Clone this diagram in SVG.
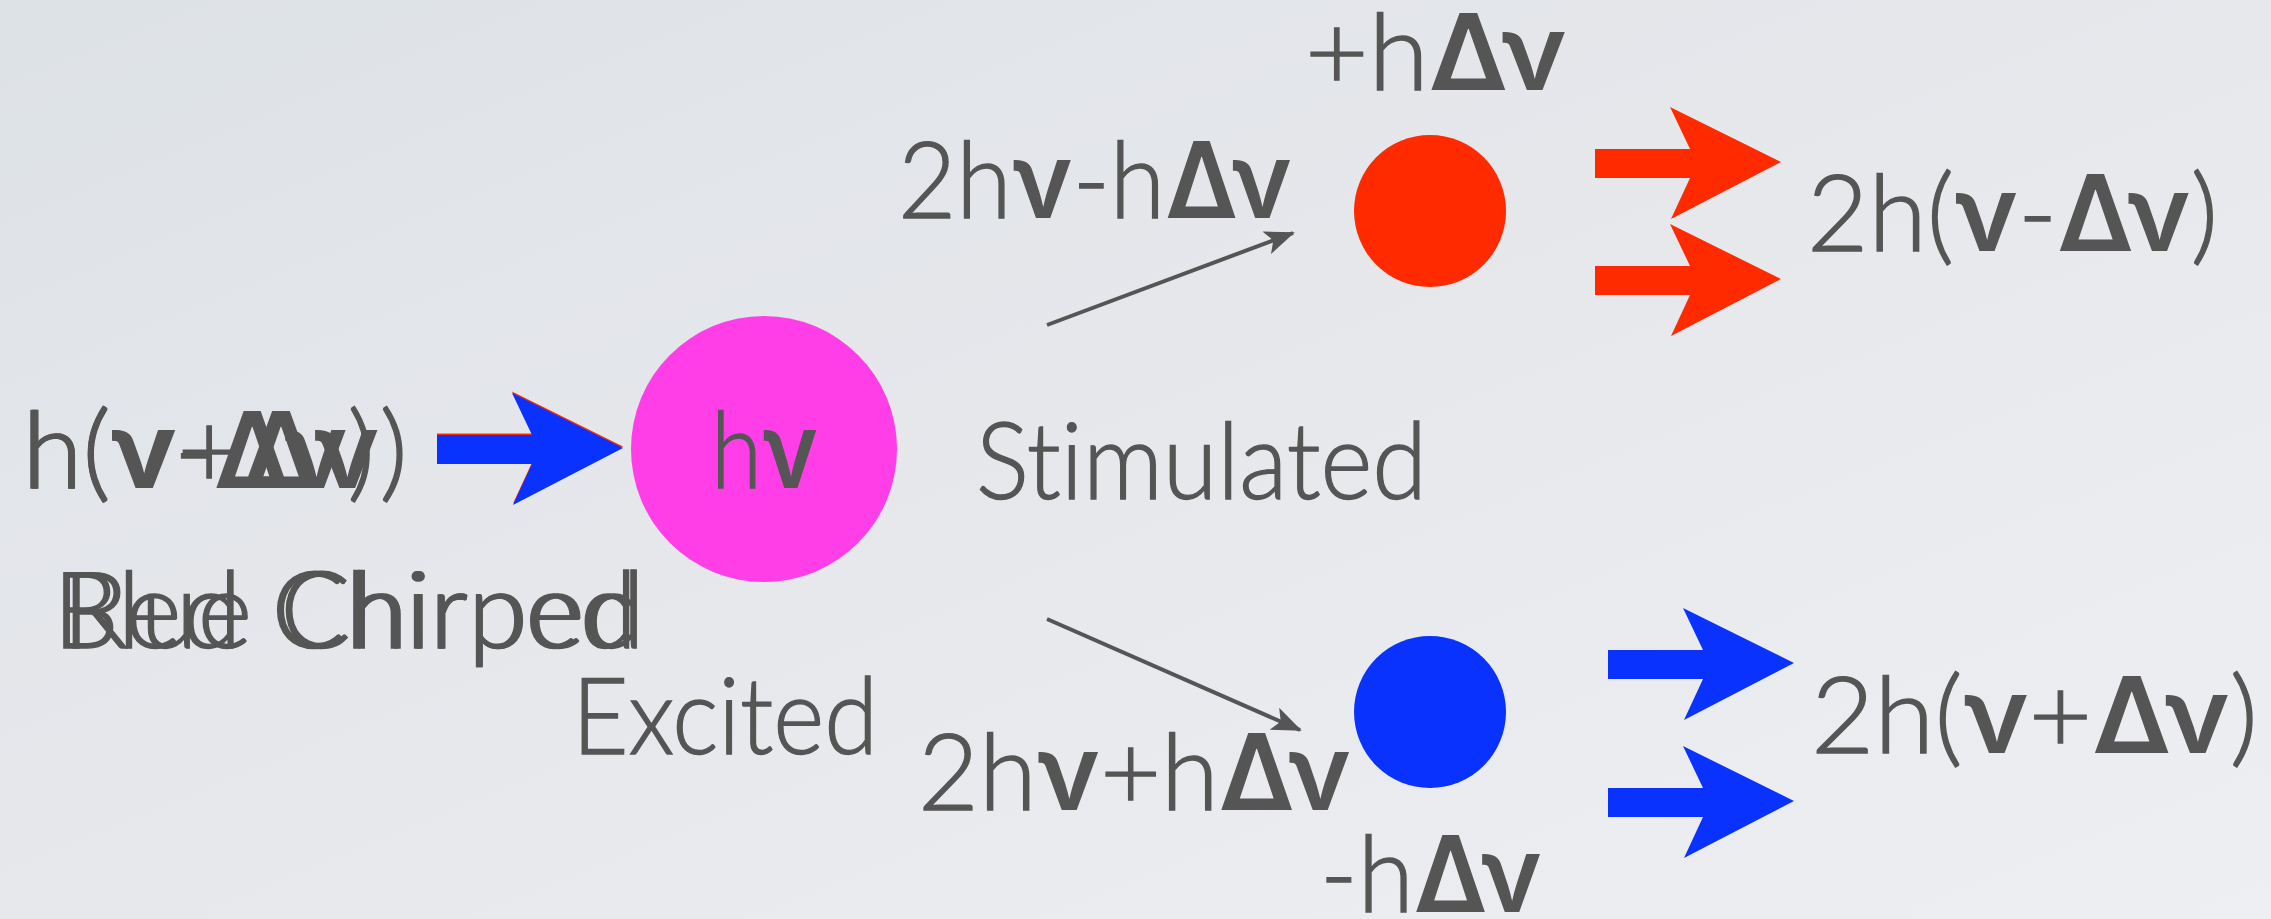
<svg xmlns="http://www.w3.org/2000/svg" width="2271" height="919" viewBox="0 0 2271 919">
  <style>
    .t { font-family: Lato, "Open Sans", "DejaVu Sans", sans-serif; font-weight: 300; fill: #555555; stroke: #555555; stroke-width: 1.4; font-size: 106px; font-variant-ligatures: none; }
    .g { font-family: Inter, Roboto, "Liberation Sans", sans-serif; font-weight: 600; stroke-width: 0; }
    .thin { stroke: #555555; stroke-width: 4; fill: none; marker-end: url(#head); }
    .red { fill: #ff2a00; }
    .blue { fill: #0a32ff; }
  </style>
  <defs>
    <linearGradient id="bg" x1="0" y1="0" x2="1" y2="1">
      <stop offset="0" stop-color="#dde2e7"/>
      <stop offset="0.5" stop-color="#e7e8ec"/>
      <stop offset="1" stop-color="#eeeff2"/>
    </linearGradient>
    <marker id="head" markerUnits="userSpaceOnUse" markerWidth="30" markerHeight="24" refX="28" refY="12" orient="auto" viewBox="0 0 30 24">
      <path d="M0,0 L30,12 L0,24 L7,12 Z" fill="#555555"/>
    </marker>
    <path id="fat" d="M0,0 L95,0 L75,-42 L186,13 L76,70 L95,29 L0,29 Z"/>
  </defs>

  <rect width="2271" height="919" fill="url(#bg)"/>

  <g id="input-label">
    <text class="t" x="22" y="488" textLength="386" lengthAdjust="spacingAndGlyphs">h(<tspan class="g">ν</tspan>+<tspan class="g">Δν</tspan>)</text>
    <text class="t" x="24" y="488" textLength="351" lengthAdjust="spacingAndGlyphs">h(<tspan class="g">ν</tspan>-<tspan class="g">Δν</tspan>)</text>
    <text class="t" x="53" y="648" textLength="584" lengthAdjust="spacingAndGlyphs">Blue Chirped</text>
    <text class="t" x="62" y="648" textLength="583" lengthAdjust="spacingAndGlyphs">Red Chirped</text>
  </g>

  <g id="input-arrow">
    <use href="#fat" x="437" y="433.5" class="red"/>
    <use href="#fat" x="437" y="435" class="blue"/>
  </g>

  <g id="photon">
    <circle cx="764" cy="449" r="133" fill="#ff3ee8"/>
    <text class="t" x="711" y="488" textLength="107" lengthAdjust="spacingAndGlyphs">h<tspan class="g">ν</tspan></text>
  </g>

  <g id="stimulated-label">
    <text class="t" x="976" y="499" textLength="451" lengthAdjust="spacingAndGlyphs">Stimulated</text>
  </g>
  <g id="excited-label">
    <text class="t" x="572" y="754" textLength="306" lengthAdjust="spacingAndGlyphs">Excited</text>
  </g>

  <g id="connectors">
    <line class="thin" x1="1047" y1="325" x2="1293" y2="233"/>
    <line class="thin" x1="1047" y1="619" x2="1300" y2="730"/>
  </g>

  <g id="red-node">
    <text class="t" x="898" y="218" textLength="394" lengthAdjust="spacingAndGlyphs">2h<tspan class="g">ν</tspan>-h<tspan class="g">Δν</tspan></text>
    <text class="t" x="1305" y="90" textLength="262" lengthAdjust="spacingAndGlyphs">+h<tspan class="g">Δν</tspan></text>
    <circle cx="1430" cy="211" r="76" fill="#ff2a00"/>
  </g>

  <g id="blue-node">
    <text class="t" x="918" y="810" textLength="433" lengthAdjust="spacingAndGlyphs">2h<tspan class="g">ν</tspan>+h<tspan class="g">Δν</tspan></text>
    <text class="t" x="1320" y="912" textLength="222" lengthAdjust="spacingAndGlyphs">-h<tspan class="g">Δν</tspan></text>
    <circle cx="1430" cy="712" r="76" fill="#0a32ff"/>
  </g>

  <g id="red-output">
    <use href="#fat" x="1595" y="149" class="red"/>
    <use href="#fat" x="1595" y="266" class="red"/>
    <text class="t" x="1807" y="251" textLength="411" lengthAdjust="spacingAndGlyphs">2h(<tspan class="g">ν</tspan>-<tspan class="g">Δν</tspan>)</text>
  </g>

  <g id="blue-output">
    <use href="#fat" x="1608" y="650" class="blue"/>
    <use href="#fat" x="1608" y="788" class="blue"/>
    <text class="t" x="1811" y="753" textLength="447" lengthAdjust="spacingAndGlyphs">2h(<tspan class="g">ν</tspan>+<tspan class="g">Δν</tspan>)</text>
  </g>
</svg>
